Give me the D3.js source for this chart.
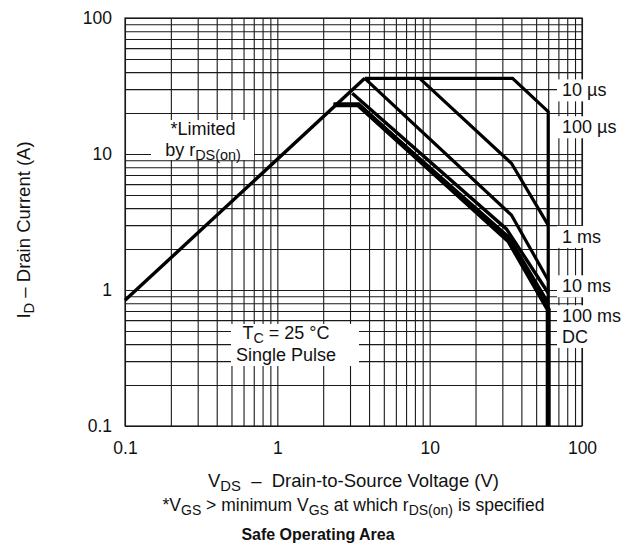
<!DOCTYPE html>
<html><head><meta charset="utf-8">
<script src="https://cdn.jsdelivr.net/npm/d3@7"></script>
<style>
body{margin:0;background:#fff}
svg{display:block}
text{font-family:"Liberation Sans",Arial,Helvetica,sans-serif;fill:#111}
</style>
</head><body>
<svg id="c" width="631" height="548"></svg>
<script>
// ---- data ----
const decadeTicks = [0.1, 1, 10, 100];
const tickLabels = ["0.1", "1", "10", "100"];
const rdsLimit = [[0.1, 0.84], [3.75, 36]];
const curve10us = [[3.75, 36], [35, 36], [60, 20.5], [60, 0.1]];
const curve100us = [[8.6, 36], [34.4, 8.55], [60, 3.0]];
const curve1ms = [[3.75, 36], [34.4, 3.56], [60, 1.18]];
const curve10ms = [[3.1, 28], [32, 2.8], [60, 0.95]];
const curve100ms = [[2.34, 23], [3.4, 23], [33, 2.45], [60, 0.8]];
const curveDC = [[2.34, 23], [3.4, 23], [33, 2.3], [60, 0.72], [60, 0.1]];
const curveLabels = ["10 µs", "100 µs", "1 ms", "10 ms", "100 ms", "DC"];
const curveLabelCurrent = [29.5, 15.8, 2.47, 1.07, 0.644, 0.454];

// ---- layout ----
const svg = d3.select("#c");
const L = 125, R = 582, T = 18, B = 426;
const x = d3.scaleLog().domain([0.1, 100]).range([L, R]);
const y = d3.scaleLog().domain([0.1, 100]).range([B, T]);
const FS = 17.5;
const AFS = 18;
const NB = "\u00A0";

// grid
const gridVals = x.ticks();
const gx = svg.append("g").attr("transform", `translate(0,${B})`)
  .call(d3.axisBottom(x).tickValues(gridVals).tickSize(-(B - T)).tickFormat(""));
const gy = svg.append("g").attr("transform", `translate(${L},0)`)
  .call(d3.axisLeft(y).tickValues(y.ticks()).tickSize(-(R - L)).tickFormat(""));
[gx, gy].forEach(g => {
  g.select(".domain").remove();
  g.selectAll("line").attr("stroke", "#1a1a1a").attr("stroke-width", 1.1);
});
svg.append("rect").attr("x", L).attr("y", T).attr("width", R - L).attr("height", B - T)
  .attr("fill", "none").attr("stroke", "#1a1a1a").attr("stroke-width", 1.2);

// tick labels via axes
const ax = svg.append("g").attr("transform", `translate(0,${B})`)
  .call(d3.axisBottom(x).tickValues(decadeTicks).tickSize(0).tickPadding(16)
    .tickFormat((d, i) => tickLabels[i]));
const ay = svg.append("g").attr("transform", `translate(${L},0)`)
  .call(d3.axisLeft(y).tickValues(decadeTicks).tickSize(0).tickPadding(13)
    .tickFormat((d, i) => tickLabels[i]));
[ax, ay].forEach(g => {
  g.select(".domain").remove();
  g.selectAll("text").attr("font-size", FS).attr("font-family", null).attr("fill", "#111");
});

// rich text helper: segments [text, isSub]
function rich(g, segs, xp, yp, anchor, size, weight) {
  const fs = size || AFS;
  const t = g.append("text").attr("x", xp).attr("y", yp).attr("text-anchor", anchor || "start")
    .attr("font-size", fs).attr("font-weight", weight || "normal");
  let sub = false;
  segs.forEach(([s, isSub]) => {
    const ts = t.append("tspan").text(s);
    if (isSub && !sub) { ts.attr("dy", 4).attr("font-size", fs * 0.8); sub = true; }
    else if (isSub) { ts.attr("font-size", fs * 0.8); }
    else if (!isSub && sub) { ts.attr("dy", -4); sub = false; }
  });
  return t;
}
function boxed(g, textSel, pad) {
  const bb = textSel.node().getBBox();
  g.insert("rect", () => textSel.node())
    .attr("x", bb.x - pad[0]).attr("y", bb.y - pad[1])
    .attr("width", bb.width + pad[0] + pad[2]).attr("height", bb.height + pad[1] + pad[3])
    .attr("fill", "#fff");
}

// annotation boxes
const ann = svg.append("g");
const lim1 = rich(ann, [["*Limited"]], 203, 135, "middle");
const lim2 = rich(ann, [["by r"], ["DS(on)", true]], 203, 156, "middle");
ann.insert("rect", () => lim1.node()).attr("x", 151).attr("y", 120).attr("width", 103).attr("height", 40).attr("fill", "#fff");

const tc1 = rich(ann, [["T"], ["C", true], [" = 25 °C"]], 286, 339, "middle");
const tc2 = rich(ann, [["Single Pulse"]], 286, 361, "middle");
ann.insert("rect", () => tc1.node()).attr("x", 231).attr("y", 324).attr("width", 128).attr("height", 42).attr("fill", "#fff");

// right labels
curveLabels.forEach((s, i) => {
  const t = ann.append("text").attr("x", 562).attr("y", y(curveLabelCurrent[i])).attr("dy", "0.35em")
    .attr("font-size", AFS).text(s);
  boxed(ann, t, [5, 1, 60, 1]);
});

// curves
const line = d3.line().x(d => x(d[0])).y(d => y(d[1]));
const curves = svg.append("g").attr("fill", "none").attr("stroke", "#000")
  .attr("stroke-linejoin", "miter").attr("stroke-linecap", "butt");
[[rdsLimit, 3.4], [curve10us, 3.2], [curve100us, 3.2], [curve1ms, 3.2],
 [curve10ms, 3.4], [curve100ms, 3.4], [curveDC, 5]].forEach(([d, w]) => {
  curves.append("path").attr("d", line(d)).attr("stroke-width", w);
});

// axis titles
const yt = svg.append("g").attr("transform", `translate(30,230) rotate(-90)`);
rich(yt, [["I"], ["D", true], [" – Drain Current (A)"]], 0, 0, "middle", 18.5);
rich(svg, [["V"], ["DS", true], [NB + NB + "–" + NB + NB + "Drain-to-Source Voltage (V)"]], (L + R) / 2, 487, "middle", 18.5);
rich(svg, [["*V"], ["GS", true], [NB + ">" + NB + "minimum V"], ["GS", true], [" at which r"], ["DS(on)", true], [" is specified"]], (L + R) / 2, 511, "middle", 17.5);
rich(svg, [["Safe Operating Area"]], 318, 540, "middle", 16, "bold");
</script>
</body></html>
